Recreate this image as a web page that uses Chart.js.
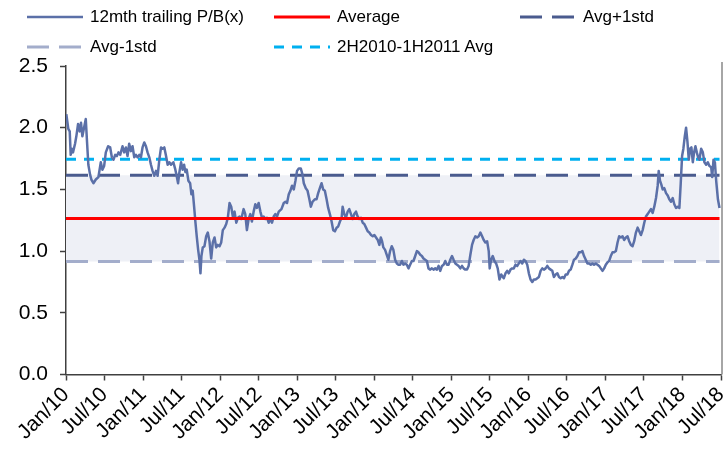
<!DOCTYPE html>
<html><head><meta charset="utf-8">
<script src="https://cdn.jsdelivr.net/npm/chart.js@4.4.0/dist/chart.umd.min.js"></script>
<style>
html,body{margin:0;padding:0;background:#fff;}
#wrap{position:relative;width:725px;height:456px;overflow:hidden;}
#c{position:absolute;left:0;top:0;}
.leg{position:absolute;font-family:"Liberation Sans",Arial,sans-serif;font-size:17px;color:#000;white-space:nowrap;line-height:20px;}
.leg svg{position:absolute;top:0;}
</style></head>
<body><div id="wrap"><canvas id="c" width="725" height="456"></canvas><div id="legend"></div></div>
<script>
// ---- data ----
const tickLabels = ["Jan/10","Jul/10","Jan/11","Jul/11","Jan/12","Jul/12","Jan/13","Jul/13","Jan/14","Jul/14","Jan/15","Jul/15","Jan/16","Jul/16","Jan/17","Jul/17","Jan/18","Jul/18"];
const seriesNames = ["12mth trailing P/B(x)","Average","Avg+1std","Avg-1std","2H2010-1H2011 Avg"];
// months since Jan 2010
const months = [0.05,0.36,0.58,0.73,0.89,1.09,1.41,1.61,1.88,2.14,2.34,2.55,2.81,3.08,3.28,3.48,3.75,3.95,4.27,4.64,5.05,5.42,5.67,5.94,6.2,6.56,6.88,7.14,7.39,7.66,7.92,8.17,8.44,8.8,9.06,9.33,9.58,9.84,10.11,10.36,10.63,10.89,11.14,11.41,11.67,11.92,12.19,12.45,12.7,12.97,13.23,13.48,13.75,14.02,14.27,14.53,14.8,15.05,15.31,15.58,15.83,16.09,16.36,16.72,17.03,17.23,17.45,17.66,17.92,18.17,18.39,18.59,18.8,19.06,19.33,19.53,19.73,19.95,20.16,20.36,20.58,20.78,20.94,21.09,21.3,21.56,21.83,22.08,22.34,22.61,22.86,23.13,23.39,23.64,23.91,24.17,24.42,24.69,24.95,25.2,25.47,25.73,25.98,26.25,26.52,26.77,27.03,27.3,27.66,27.92,28.17,28.44,28.7,28.95,29.22,29.48,29.73,30.0,30.27,30.52,30.78,31.05,31.3,31.56,31.83,32.08,32.34,32.61,32.86,33.13,33.55,33.91,34.17,34.42,34.69,34.95,35.2,35.47,35.73,35.98,36.25,36.56,36.83,37.03,37.34,37.61,37.86,38.13,38.39,38.75,39.02,39.27,39.53,39.8,40.05,40.31,40.58,40.83,41.09,41.36,41.61,41.88,42.14,42.39,42.66,42.92,43.08,43.33,43.59,43.86,44.11,44.38,44.64,44.89,45.16,45.42,45.67,45.94,46.2,46.45,46.72,46.98,47.23,47.5,47.77,48.02,48.28,48.55,48.8,49.02,49.22,49.42,49.69,49.95,50.2,50.47,50.73,50.98,51.25,51.52,51.77,52.03,52.3,52.55,52.81,53.08,53.33,53.59,53.86,54.11,54.38,54.64,54.89,55.16,55.42,55.67,55.94,56.2,56.45,56.72,56.98,57.23,57.5,57.77,58.02,58.28,58.55,58.8,59.06,59.33,59.58,59.84,60.11,60.36,60.63,60.89,61.14,61.41,61.67,61.92,62.19,62.45,62.7,62.97,63.23,63.48,63.75,64.02,64.27,64.53,64.8,65.05,65.31,65.58,65.83,65.98,66.2,66.45,66.72,66.98,67.23,67.5,67.77,68.02,68.17,68.44,68.7,68.95,69.22,69.48,69.73,70.0,70.27,70.52,70.78,71.05,71.3,71.56,71.83,72.08,72.34,72.61,72.86,73.13,73.39,73.64,73.91,74.17,74.42,74.69,74.95,75.2,75.47,75.73,75.98,76.25,76.52,76.77,77.03,77.3,77.55,77.81,78.08,78.33,78.59,78.86,79.11,79.38,79.64,79.89,80.16,80.42,80.67,80.94,81.2,81.45,81.72,81.98,82.23,82.5,82.77,83.02,83.28,83.55,83.8,84.06,84.33,84.58,84.84,85.11,85.36,85.63,85.89,86.14,86.41,86.67,86.92,87.19,87.45,87.7,87.97,88.23,88.48,88.75,89.02,89.27,89.53,89.8,90.05,90.31,90.58,90.83,91.09,91.36,91.61,91.88,92.14,92.3,92.5,92.7,92.92,93.17,93.44,93.7,93.95,94.22,94.48,94.73,95.0,95.27,95.52,95.73,95.94,96.14,96.36,96.56,96.77,96.98,97.19,97.39,97.61,97.81,98.02,98.23,98.44,98.64,98.91,99.17,99.42,99.69,99.95,100.2,100.47,100.63,100.83,101.05,101.25,101.52,101.77];
const pb = [2.11,1.99,1.97,1.78,1.83,1.80,1.87,1.93,2.03,1.97,2.04,1.93,2.00,2.07,1.88,1.70,1.62,1.58,1.55,1.58,1.60,1.72,1.66,1.69,1.80,1.85,1.84,1.76,1.74,1.78,1.77,1.80,1.78,1.85,1.80,1.84,1.77,1.87,1.81,1.85,1.76,1.78,1.76,1.78,1.76,1.84,1.88,1.85,1.80,1.76,1.70,1.65,1.61,1.65,1.61,1.74,1.84,1.83,1.84,1.77,1.70,1.72,1.70,1.72,1.66,1.61,1.55,1.64,1.72,1.66,1.70,1.64,1.66,1.57,1.55,1.46,1.49,1.36,1.23,1.12,1.01,0.93,0.82,0.96,1.03,1.04,1.12,1.15,1.08,0.94,1.07,1.11,1.03,1.05,1.04,1.07,1.17,1.19,1.22,1.27,1.39,1.36,1.28,1.32,1.23,1.27,1.28,1.26,1.34,1.30,1.17,1.26,1.30,1.24,1.32,1.38,1.35,1.39,1.32,1.27,1.28,1.26,1.27,1.23,1.26,1.23,1.28,1.30,1.28,1.32,1.34,1.39,1.40,1.39,1.46,1.49,1.53,1.50,1.57,1.65,1.67,1.67,1.62,1.55,1.51,1.49,1.43,1.36,1.40,1.42,1.42,1.47,1.51,1.55,1.50,1.49,1.42,1.35,1.30,1.24,1.17,1.16,1.19,1.20,1.24,1.27,1.36,1.30,1.27,1.32,1.34,1.30,1.26,1.30,1.32,1.28,1.26,1.27,1.23,1.22,1.19,1.16,1.15,1.13,1.12,1.13,1.11,1.09,1.05,1.11,1.08,1.03,1.01,0.97,0.93,1.00,1.04,1.01,0.93,0.90,0.89,0.89,0.92,0.89,0.90,0.89,0.86,0.89,0.92,0.92,0.96,1.00,0.99,0.97,0.96,0.94,0.93,0.92,0.86,0.85,0.86,0.85,0.86,0.85,0.88,0.84,0.88,0.89,0.92,0.89,0.89,0.93,0.96,0.93,0.90,0.89,0.88,0.86,0.88,0.86,0.85,0.85,0.88,0.97,1.05,1.09,1.12,1.11,1.12,1.15,1.12,1.09,1.07,1.08,1.00,0.86,0.93,0.96,0.92,0.90,0.86,0.77,0.81,0.79,0.78,0.82,0.84,0.82,0.85,0.86,0.86,0.89,0.88,0.90,0.92,0.90,0.93,0.92,0.89,0.82,0.77,0.75,0.77,0.77,0.78,0.79,0.84,0.86,0.85,0.86,0.88,0.86,0.85,0.84,0.79,0.81,0.82,0.79,0.78,0.79,0.78,0.81,0.81,0.84,0.85,0.89,0.93,0.94,0.96,0.99,0.99,1.00,0.96,0.93,0.90,0.90,0.89,0.90,0.89,0.90,0.89,0.88,0.86,0.84,0.86,0.89,0.91,0.92,0.96,0.99,0.99,1.00,1.07,1.12,1.11,1.12,1.09,1.11,1.12,1.08,1.05,1.04,1.08,1.15,1.19,1.16,1.13,1.17,1.23,1.28,1.30,1.32,1.34,1.31,1.36,1.43,1.53,1.65,1.57,1.54,1.50,1.51,1.47,1.45,1.42,1.40,1.43,1.38,1.35,1.36,1.35,1.55,1.77,1.83,1.93,2.00,1.89,1.74,1.83,1.84,1.72,1.80,1.85,1.80,1.76,1.74,1.83,1.80,1.72,1.70,1.72,1.69,1.68,1.60,1.74,1.72,1.57,1.42,1.35];
const average = 1.264;
const avgPlus1Std = 1.614;
const avgMinus1Std = 0.915;
const avg2H2010to1H2011 = 1.745;

// ---- styles ----
const FONT = '"Liberation Sans", Arial, sans-serif';
const C_MAIN = '#5b70a8', C_AVG = '#ff0000', C_PLUS = '#4a5b8e', C_MINUS = '#a3adcb', C_CYAN = '#00b0f0', C_BAND = '#eef0f6';

// ---- legend (HTML) ----
const legendItems = [
  {name: seriesNames[0], color: C_MAIN, dash: null, w: 2.5, left: 27, top: 7},
  {name: seriesNames[1], color: C_AVG, dash: null, w: 3, left: 274, top: 7},
  {name: seriesNames[2], color: C_PLUS, dash: '22,10', w: 3, left: 520, top: 7},
  {name: seriesNames[3], color: C_MINUS, dash: '22,10', w: 3, left: 27, top: 37},
  {name: seriesNames[4], color: C_CYAN, dash: '10,8', w: 3, left: 274, top: 37}
];
const leg = document.getElementById('legend');
legendItems.forEach(it => {
  const d = document.createElement('div');
  d.className = 'leg';
  d.style.left = it.left + 'px';
  d.style.top = it.top + 'px';
  d.style.paddingLeft = '63px';
  d.innerHTML = '<svg width="56" height="20" style="left:0"><line x1="0" y1="10" x2="56" y2="10" stroke="' + it.color + '" stroke-width="' + it.w + '"' + (it.dash ? ' stroke-dasharray="' + it.dash + '"' : '') + '/></svg>';
  d.appendChild(document.createTextNode(it.name));
  leg.appendChild(d);
});

// ---- chart ----
const lastM = months[months.length - 1];
const flat = v => [{x: 0, y: v}, {x: lastM, y: v}];
const rightBorder = {
  id: 'rightBorder',
  afterDatasetsDraw(chart) {
    const a = chart.chartArea, c = chart.ctx;
    c.save();
    c.strokeStyle = '#a6a6a6';
    c.lineWidth = 2;
    c.beginPath();
    c.moveTo(a.right + 1, a.top - 4);
    c.lineTo(a.right + 1, a.bottom);
    c.stroke();
    c.restore();
  }
};
const axisGrid = {drawOnChartArea: false, drawTicks: true, tickLength: 6, tickColor: '#404040', tickWidth: 1.5};
new Chart(document.getElementById('c'), {
  type: 'line',
  data: {datasets: [
    {label: seriesNames[1], data: flat(average), borderColor: C_AVG, borderWidth: 3, pointRadius: 0, order: 0},
    {label: seriesNames[0], data: months.map((m, i) => ({x: m, y: pb[i]})), borderColor: C_MAIN, borderWidth: 2.5, pointRadius: 0, tension: 0, borderJoinStyle: 'round', order: 1},
    {label: seriesNames[4], data: flat(avg2H2010to1H2011), borderColor: C_CYAN, borderDash: [10, 8], borderWidth: 3, pointRadius: 0, order: 2},
    {label: seriesNames[2], data: flat(avgPlus1Std), borderColor: C_PLUS, borderDash: [22, 10], borderWidth: 3, pointRadius: 0, order: 3},
    {label: seriesNames[3], data: flat(avgMinus1Std), borderColor: C_MINUS, borderDash: [22, 10], borderWidth: 3, pointRadius: 0, order: 4},
    {label: 'band', data: flat(avgPlus1Std), fill: {value: avgMinus1Std}, backgroundColor: C_BAND, borderWidth: 0, borderColor: 'rgba(0,0,0,0)', pointRadius: 0, order: 5}
  ]},
  options: {
    responsive: false, animation: false, devicePixelRatio: 1,
    layout: {padding: {left: 10, top: 66, right: 4, bottom: 0}},
    plugins: {legend: {display: false}, tooltip: {enabled: false}},
    scales: {
      x: {
        type: 'linear', min: 0, max: 102,
        afterBuildTicks: s => { s.ticks = tickLabels.map((_, i) => ({value: i * 6})); },
        ticks: {autoSkip: false, maxRotation: 45, minRotation: 45, callback: v => tickLabels[Math.round(v / 6)], font: {family: FONT, size: 21}, color: '#000', padding: 2},
        grid: axisGrid,
        border: {color: '#404040', width: 1.5},
        afterFit: s => { s.height = 81.5; s.paddingRight = 0; s.paddingLeft = 0; }
      },
      y: {
        min: 0, max: 2.5,
        ticks: {stepSize: 0.5, callback: v => Number(v).toFixed(1), font: {family: FONT, size: 21}, color: '#000', padding: 12},
        grid: axisGrid,
        border: {color: '#404040', width: 1.5},
        afterFit: s => { s.width = 56; s.paddingTop = 0; s.paddingBottom = 0; }
      }
    }
  },
  plugins: [rightBorder]
});
</script>
</body></html>
